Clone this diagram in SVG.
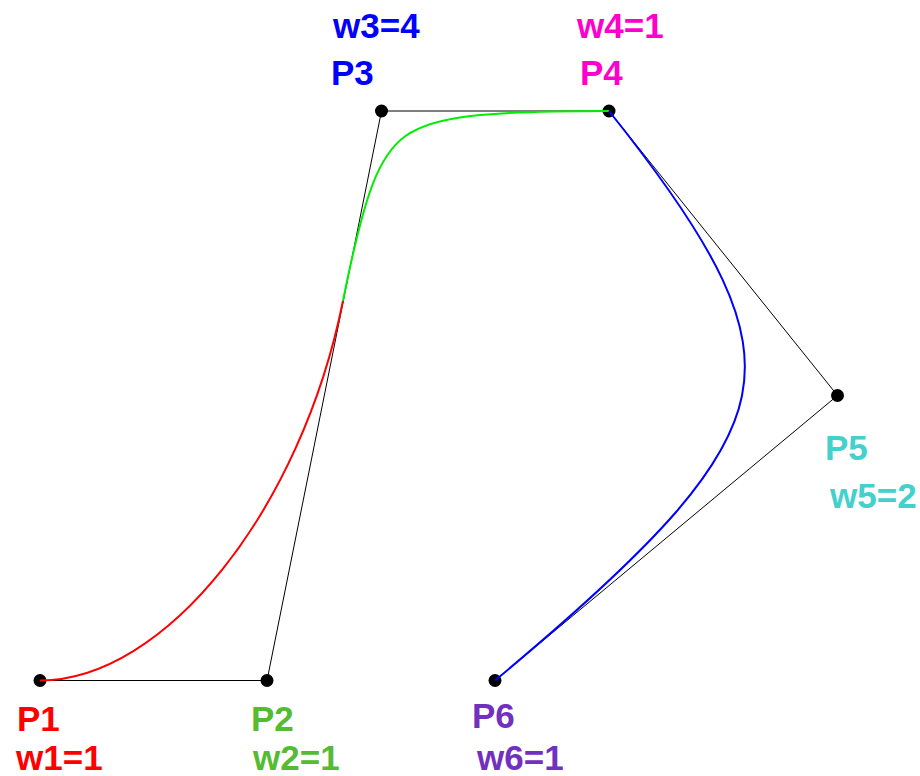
<svg xmlns="http://www.w3.org/2000/svg" width="920" height="776" viewBox="0 0 920 776">
<style>
text{font-family:"Liberation Sans",Arial,Helvetica,sans-serif;font-weight:bold;font-size:35px}
.dot{fill:#000}
.poly{fill:none;stroke:#000;stroke-width:1}
.crv{fill:none;stroke-width:2}
</style>
<rect width="920" height="776" fill="#fff"/>
<g id="P1"><circle class="dot" cx="40" cy="680.5" r="6.5"/><text x="17" y="731" fill="#ff0000">P1</text><text x="16" y="770" fill="#ff0000">w1=1</text></g>
<g id="P2"><circle class="dot" cx="267" cy="680.5" r="6.5"/><text x="251" y="731" fill="#55bb33">P2</text><text x="253" y="770" fill="#55bb33">w2=1</text></g>
<g id="P3"><circle class="dot" cx="381.5" cy="111" r="6.5"/><text x="331" y="85" fill="#0000ff">P3</text><text x="333" y="38" fill="#0000ff">w3=4</text></g>
<g id="P4"><circle class="dot" cx="609" cy="111" r="6.5"/><text x="580" y="85" fill="#ff00cc">P4</text><text x="577" y="38" fill="#ff00cc">w4=1</text></g>
<g id="P5"><circle class="dot" cx="837.5" cy="395.5" r="6.5"/><text x="825" y="460" fill="#44d0cc">P5</text><text x="830" y="508" fill="#44d0cc">w5=2</text></g>
<g id="P6"><circle class="dot" cx="495" cy="680.5" r="6.5"/><text x="472" y="728" fill="#7330bf">P6</text><text x="477" y="770" fill="#7330bf">w6=1</text></g>
<g id="connectors">
<polyline class="poly" points="40,680.5 267,680.5 381.5,111 609,111 837.5,395.5 495,680.5"/>
<path class="crv" stroke="#ff0000" d="M40,680.5 C164.9,680.5 301,510.2 343,300.7"/>
<path class="crv" stroke="#00ee00" d="M343,300.7 C364.7,192.3 378.9,155 405.8,135.8 C432.7,116.6 478.7,111 609,111"/>
<path class="crv" stroke="#0000ff" d="M609,111 C720.6,250.5 755.9,326.2 742,395.8 C728.1,465.5 662.4,541.1 495,680.5"/>
</g>
</svg>
